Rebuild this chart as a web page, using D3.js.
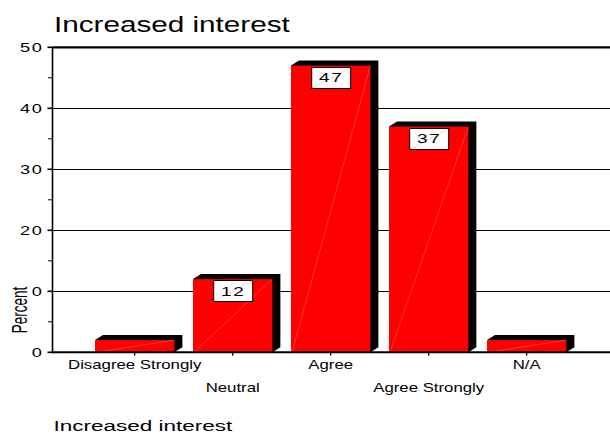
<!DOCTYPE html>
<html>
<head>
<meta charset="utf-8">
<script src="https://cdn.jsdelivr.net/npm/d3@7"></script>
<style>
  html, body { margin: 0; padding: 0; background: #fff; }
  svg { display: block; font-family: "Liberation Sans", Arial, Helvetica, sans-serif; }
</style>
</head>
<body>
<svg id="chart" width="610" height="436"></svg>
<script>
// Survey responses: share of respondents (percent)
const categories = ["Disagree Strongly", "Neutral", "Agree", "Agree Strongly", "N/A"];
const percents = [2, 12, 47, 37, 2];
const valueLabels = ["", "12", "47", "37", ""];
const majorTicks = [0, 10, 20, 30, 40, 50];
const minorTicks = [5, 15, 25, 35, 45];
const tickLabels = ["0", "10", "20", "30", "40", "50"];
const chartTitle = "Increased interest";
const yTitle = "Percent";
const caption = "Increased interest";

const svg = d3.select("#chart");
const W = 610;
const axisX = 52.5;
const baseY = 352.3;
const SX = 1.4;          // wide glyph rendering used throughout
const depthX = 8, depthY = 5;

const y = d3.scaleLinear().domain([0, 50]).range([baseY, 47.3]);
const x = d3.scaleBand().domain(categories).range([85.7, 575.7])
  .paddingInner(0.19).paddingOuter(0.095);

// horizontal grid lines
svg.append("g").selectAll("line").data(majorTicks.filter(d => d > 0 && d < 50)).join("line")
  .attr("x1", axisX).attr("x2", W)
  .attr("y1", d => Math.round(y(d)) + 0.5).attr("y2", d => Math.round(y(d)) + 0.5)
  .attr("stroke", "#000").attr("stroke-width", 1);
// top frame line
svg.append("line").attr("x1", axisX).attr("x2", W)
  .attr("y1", y(50)).attr("y2", y(50)).attr("stroke", "#000").attr("stroke-width", 2.2);

// bars: black depth faces behind a red front face
const bars = svg.append("g").selectAll("g").data(categories.map((c, i) => ({c, v: percents[i], label: valueLabels[i]}))).join("g");
bars.append("path")
  .attr("fill", "#000")
  .attr("d", d => {
    const x0 = x(d.c), x1 = x(d.c) + x.bandwidth(), yt = y(d.v), yb = y(0);
    return `M${x0},${yt}L${x0 + depthX},${yt - depthY}L${x1 + depthX},${yt - depthY}` +
           `L${x1 + depthX},${yb - depthY}L${x1},${yb}Z`;
  });
bars.append("rect")
  .attr("x", d => x(d.c)).attr("y", d => y(d.v))
  .attr("width", x.bandwidth()).attr("height", d => y(0) - y(d.v))
  .attr("fill", "#ff0000");
// faint seam across the face
bars.append("line")
  .attr("x1", d => x(d.c) + 1).attr("y1", d => y(0))
  .attr("x2", d => x(d.c) + x.bandwidth()).attr("y2", d => y(d.v))
  .attr("stroke", "rgba(255,170,170,0.5)").attr("stroke-width", 0.6);

// value boxes
const boxW = 39, boxH = 21;
const lab = bars.filter(d => d.label !== "");
lab.append("rect")
  .attr("x", d => x(d.c) + x.bandwidth() / 2 - boxW / 2 + 0.5)
  .attr("y", d => Math.round(y(d.v) + 1) + 0.5)
  .attr("width", boxW).attr("height", boxH)
  .attr("fill", "#fff").attr("stroke", "#000").attr("stroke-width", 1);
lab.append("line")
  .attr("x1", d => x(d.c) + x.bandwidth() / 2 - boxW / 2 + 1)
  .attr("y1", d => Math.round(y(d.v) + 1) + boxH)
  .attr("x2", d => x(d.c) + x.bandwidth() / 2 + boxW / 2)
  .attr("y2", d => Math.round(y(d.v) + 1) + 1)
  .attr("stroke", "rgba(255,0,0,0.3)").attr("stroke-width", 0.6);
lab.append("text")
  .attr("transform", d => `translate(${x(d.c) + x.bandwidth() / 2 + 0.5},${y(d.v) + 16.8}) scale(${SX},1)`)
  .attr("text-anchor", "middle").attr("font-size", 13.5).attr("letter-spacing", 1.2)
  .attr("fill", "#000").text(d => d.label);

// x axis baseline and ticks
svg.append("line").attr("x1", axisX - 1).attr("x2", W)
  .attr("y1", baseY).attr("y2", baseY).attr("stroke", "#000").attr("stroke-width", 2);
svg.append("g").selectAll("line").data(categories).join("line")
  .attr("x1", d => x(d) + x.bandwidth() / 2).attr("x2", d => x(d) + x.bandwidth() / 2)
  .attr("y1", baseY).attr("y2", baseY + 3.5).attr("stroke", "#000").attr("stroke-width", 1.2);
svg.append("g").selectAll("text").data(categories).join("text")
  .attr("transform", (d, i) => `translate(${x(d) + x.bandwidth() / 2},${i % 2 ? 391.5 : 369}) scale(${SX},1)`)
  .attr("text-anchor", "middle").attr("font-size", 12).attr("fill", "#000").text(d => d);

// y axis
svg.append("line").attr("x1", axisX).attr("x2", axisX)
  .attr("y1", y(50)).attr("y2", baseY + 1).attr("stroke", "#000").attr("stroke-width", 1.6);
svg.append("g").selectAll("line").data(majorTicks).join("line")
  .attr("x1", axisX - 5).attr("x2", axisX)
  .attr("y1", d => y(d)).attr("y2", d => y(d)).attr("stroke", "#000").attr("stroke-width", 1.6);
svg.append("g").selectAll("line").data(minorTicks).join("line")
  .attr("x1", axisX - 4.5).attr("x2", axisX)
  .attr("y1", d => y(d)).attr("y2", d => y(d)).attr("stroke", "#000").attr("stroke-width", 1);
svg.append("g").selectAll("text").data(majorTicks).join("text")
  .attr("transform", (d) => `translate(${axisX - 9},${y(d) + 4.7}) scale(${SX},1)`)
  .attr("text-anchor", "end").attr("font-size", 13).attr("letter-spacing", 1.2)
  .attr("fill", "#000").text((d, i) => tickLabels[i]);

// y axis title on an opaque patch
svg.append("rect").attr("x", 7).attr("y", 284).attr("width", 24).attr("height", 50).attr("fill", "#fff");
svg.append("text")
  .attr("transform", `translate(27,310) scale(1.65,1) rotate(-90)`)
  .attr("text-anchor", "middle").attr("font-size", 13.5).attr("fill", "#000").text(yTitle);

// titles, stretched to their set widths
function fitText(sel, width) {
  const len = sel.node().getComputedTextLength();
  const [tx, ty] = [sel.attr("data-x"), sel.attr("data-y")];
  sel.attr("transform", `translate(${tx},${ty}) scale(${width / len},1)`);
}
const t1 = svg.append("text").attr("data-x", 54).attr("data-y", 31.5)
  .attr("font-size", 22).attr("fill", "#000").text(chartTitle);
fitText(t1, 236);
const t2 = svg.append("text").attr("data-x", 53.5).attr("data-y", 431)
  .attr("font-size", 14).attr("fill", "#000").text(caption);
fitText(t2, 179);
</script>
</body>
</html>
